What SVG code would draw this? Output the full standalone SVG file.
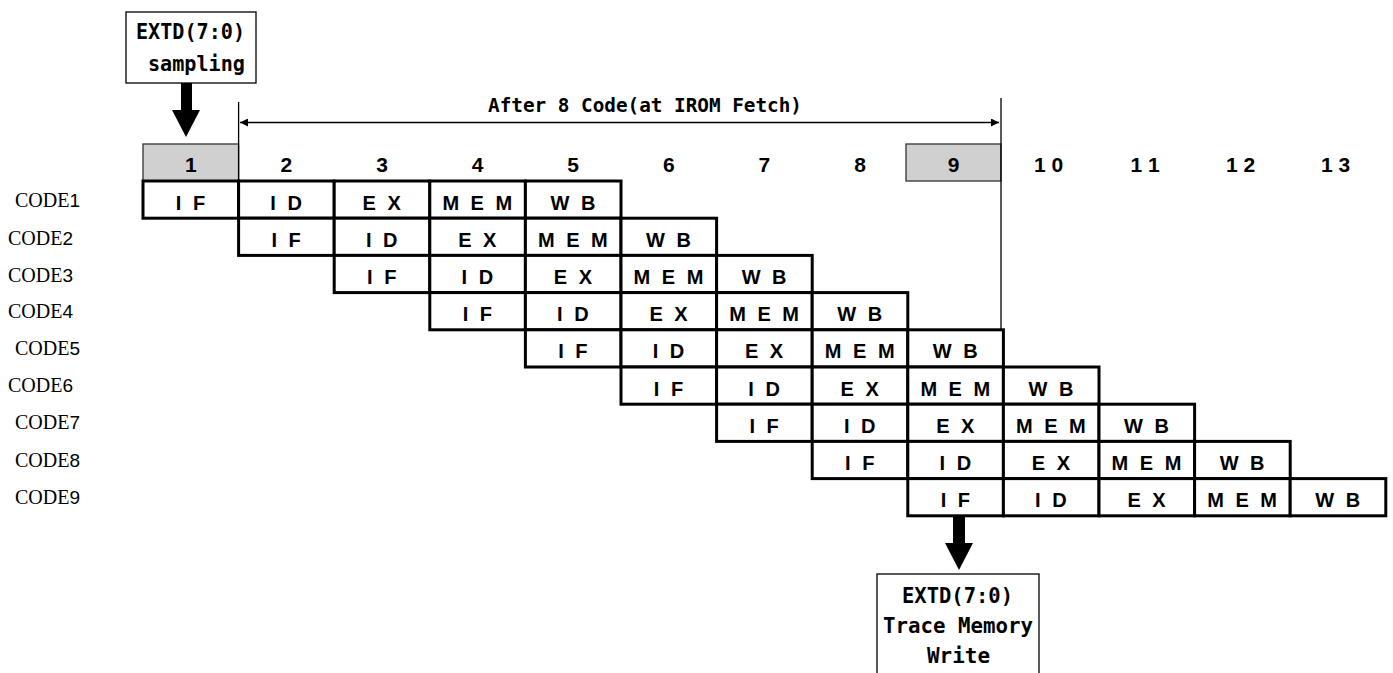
<svg xmlns="http://www.w3.org/2000/svg" width="1393" height="673" viewBox="0 0 1393 673">
<defs>
<style>
.bg{fill:#ffffff}
.cell rect{fill:#ffffff;stroke:#000;stroke-width:3}
.cell text{font-family:"Liberation Sans",Arial,sans-serif;font-weight:bold;font-size:20px;letter-spacing:3px;text-anchor:middle;fill:#000}
.hdr text{font-family:"Liberation Sans",Arial,sans-serif;font-weight:bold;font-size:21px;text-anchor:middle;fill:#000}
.gray{fill:#d0d0d0;stroke:#333;stroke-width:1.3}
.lbl{font-family:"Liberation Serif","Times New Roman",serif;font-size:20px;fill:#000}
.lbl tspan{font-family:"Liberation Sans",Arial,sans-serif;font-size:19px}
.note rect{fill:#fff;stroke:#000;stroke-width:1.3}
.note text{font-family:"DejaVu Sans Mono","Liberation Mono",monospace;font-weight:bold;font-size:22px;fill:#000}
.thin{stroke:#000;stroke-width:1.3;fill:none}
.big{fill:#000}
.cap{font-family:"DejaVu Sans Mono","Liberation Mono",monospace;font-weight:bold;font-size:20px;fill:#000}
</style>
<marker id="ah" viewBox="0 0 10 10" refX="10" refY="5" markerWidth="10" markerHeight="8" markerUnits="userSpaceOnUse" orient="auto-start-reverse">
<path d="M0,0 L10,5 L0,10 z" fill="#000"/>
</marker>
</defs>
<rect class="bg" x="0" y="0" width="1393" height="673"/>

<g id="header">
<rect class="gray" x="143" y="144" width="95.6" height="37"/>
<rect class="gray" x="906" y="144" width="95" height="37"/>
<g class="hdr">
<text x="190.8" y="172">1</text>
<text x="286.4" y="172">2</text>
<text x="382" y="172">3</text>
<text x="477.6" y="172">4</text>
<text x="573.2" y="172">5</text>
<text x="668.8" y="172">6</text>
<text x="764.4" y="172">7</text>
<text x="860" y="172">8</text>
<text x="953.5" y="172">9</text>
<text x="1048.5" y="172">1 0</text>
<text x="1145" y="172">1 1</text>
<text x="1240.5" y="172">1 2</text>
<text x="1335.5" y="172">1 3</text>
</g>
</g>

<g id="connectors">
<line class="thin" x1="238.6" y1="102" x2="238.6" y2="181"/>
<line class="thin" x1="1001" y1="98" x2="1001" y2="330"/>
<line class="thin" x1="240" y1="122.5" x2="999" y2="122.5" marker-start="url(#ah)" marker-end="url(#ah)"/>
<text class="cap" x="488" y="112" textLength="314" lengthAdjust="spacingAndGlyphs">After 8 Code(at IROM Fetch)</text>
<rect class="big" x="181" y="83" width="11" height="28"/>
<polygon class="big" points="172,110 200,110 186,137"/>
<rect class="big" x="953" y="517" width="12" height="27"/>
<polygon class="big" points="945,543 973,543 959,570"/>
</g>

<g id="sampling-box" class="note">
<rect x="126" y="12" width="130" height="71"/>
<text x="136" y="39" textLength="109" lengthAdjust="spacingAndGlyphs">EXTD(7:0)</text>
<text x="148" y="71" textLength="97" lengthAdjust="spacingAndGlyphs">sampling</text>
</g>

<g id="trace-box" class="note">
<rect x="877" y="574" width="162" height="120"/>
<text x="902" y="603" textLength="111" lengthAdjust="spacingAndGlyphs">EXTD(7:0)</text>
<text x="883" y="633" textLength="150" lengthAdjust="spacingAndGlyphs">Trace Memory</text>
<text x="927" y="663" textLength="63" lengthAdjust="spacingAndGlyphs">Write</text>
</g>

<g id="labels">
<text class="lbl" x="15" y="207">CODE<tspan>1</tspan></text>
<text class="lbl" x="8" y="245">CODE<tspan>2</tspan></text>
<text class="lbl" x="8" y="282">CODE<tspan>3</tspan></text>
<text class="lbl" x="8" y="318">CODE<tspan>4</tspan></text>
<text class="lbl" x="15" y="355">CODE<tspan>5</tspan></text>
<text class="lbl" x="8" y="392">CODE<tspan>6</tspan></text>
<text class="lbl" x="15" y="429">CODE<tspan>7</tspan></text>
<text class="lbl" x="15" y="467">CODE<tspan>8</tspan></text>
<text class="lbl" x="15" y="504">CODE<tspan>9</tspan></text>
</g>

<g id="code1" class="cell">
<rect x="143" y="181" width="95.6" height="37.2"/><text x="192" y="209.5">I F</text>
<rect x="238.6" y="181" width="95.6" height="37.2"/><text x="287.6" y="209.5">I D</text>
<rect x="334.2" y="181" width="95.6" height="37.2"/><text x="383.2" y="209.5">E X</text>
<rect x="429.8" y="181" width="95.6" height="37.2"/><text x="478.8" y="209.5">M E M</text>
<rect x="525.4" y="181" width="95.6" height="37.2"/><text x="574.4" y="209.5">W B</text>
</g>
<g id="code2" class="cell">
<rect x="238.6" y="218.2" width="95.6" height="37.2"/><text x="287.6" y="246.7">I F</text>
<rect x="334.2" y="218.2" width="95.6" height="37.2"/><text x="383.2" y="246.7">I D</text>
<rect x="429.8" y="218.2" width="95.6" height="37.2"/><text x="478.8" y="246.7">E X</text>
<rect x="525.4" y="218.2" width="95.6" height="37.2"/><text x="574.4" y="246.7">M E M</text>
<rect x="621" y="218.2" width="95.6" height="37.2"/><text x="670" y="246.7">W B</text>
</g>
<g id="code3" class="cell">
<rect x="334.2" y="255.4" width="95.6" height="37.2"/><text x="383.2" y="283.9">I F</text>
<rect x="429.8" y="255.4" width="95.6" height="37.2"/><text x="478.8" y="283.9">I D</text>
<rect x="525.4" y="255.4" width="95.6" height="37.2"/><text x="574.4" y="283.9">E X</text>
<rect x="621" y="255.4" width="95.6" height="37.2"/><text x="670" y="283.9">M E M</text>
<rect x="716.6" y="255.4" width="95.6" height="37.2"/><text x="765.6" y="283.9">W B</text>
</g>
<g id="code4" class="cell">
<rect x="429.8" y="292.6" width="95.6" height="37.2"/><text x="478.8" y="321.1">I F</text>
<rect x="525.4" y="292.6" width="95.6" height="37.2"/><text x="574.4" y="321.1">I D</text>
<rect x="621" y="292.6" width="95.6" height="37.2"/><text x="670" y="321.1">E X</text>
<rect x="716.6" y="292.6" width="95.6" height="37.2"/><text x="765.6" y="321.1">M E M</text>
<rect x="812.2" y="292.6" width="95.6" height="37.2"/><text x="861.2" y="321.1">W B</text>
</g>
<g id="code5" class="cell">
<rect x="525.4" y="329.8" width="95.6" height="37.2"/><text x="574.4" y="358.3">I F</text>
<rect x="621" y="329.8" width="95.6" height="37.2"/><text x="670" y="358.3">I D</text>
<rect x="716.6" y="329.8" width="95.6" height="37.2"/><text x="765.6" y="358.3">E X</text>
<rect x="812.2" y="329.8" width="95.6" height="37.2"/><text x="861.2" y="358.3">M E M</text>
<rect x="907.8" y="329.8" width="95.6" height="37.2"/><text x="956.8" y="358.3">W B</text>
</g>
<g id="code6" class="cell">
<rect x="621" y="367" width="95.6" height="37.2"/><text x="670" y="395.5">I F</text>
<rect x="716.6" y="367" width="95.6" height="37.2"/><text x="765.6" y="395.5">I D</text>
<rect x="812.2" y="367" width="95.6" height="37.2"/><text x="861.2" y="395.5">E X</text>
<rect x="907.8" y="367" width="95.6" height="37.2"/><text x="956.8" y="395.5">M E M</text>
<rect x="1003.4" y="367" width="95.6" height="37.2"/><text x="1052.4" y="395.5">W B</text>
</g>
<g id="code7" class="cell">
<rect x="716.6" y="404.2" width="95.6" height="37.2"/><text x="765.6" y="432.7">I F</text>
<rect x="812.2" y="404.2" width="95.6" height="37.2"/><text x="861.2" y="432.7">I D</text>
<rect x="907.8" y="404.2" width="95.6" height="37.2"/><text x="956.8" y="432.7">E X</text>
<rect x="1003.4" y="404.2" width="95.6" height="37.2"/><text x="1052.4" y="432.7">M E M</text>
<rect x="1099" y="404.2" width="95.6" height="37.2"/><text x="1148" y="432.7">W B</text>
</g>
<g id="code8" class="cell">
<rect x="812.2" y="441.4" width="95.6" height="37.2"/><text x="861.2" y="469.9">I F</text>
<rect x="907.8" y="441.4" width="95.6" height="37.2"/><text x="956.8" y="469.9">I D</text>
<rect x="1003.4" y="441.4" width="95.6" height="37.2"/><text x="1052.4" y="469.9">E X</text>
<rect x="1099" y="441.4" width="95.6" height="37.2"/><text x="1148" y="469.9">M E M</text>
<rect x="1194.6" y="441.4" width="95.6" height="37.2"/><text x="1243.6" y="469.9">W B</text>
</g>
<g id="code9" class="cell">
<rect x="907.8" y="478.6" width="95.6" height="37.2"/><text x="956.8" y="507.1">I F</text>
<rect x="1003.4" y="478.6" width="95.6" height="37.2"/><text x="1052.4" y="507.1">I D</text>
<rect x="1099" y="478.6" width="95.6" height="37.2"/><text x="1148" y="507.1">E X</text>
<rect x="1194.6" y="478.6" width="95.6" height="37.2"/><text x="1243.6" y="507.1">M E M</text>
<rect x="1290.2" y="478.6" width="95.6" height="37.2"/><text x="1339.2" y="507.1">W B</text>
</g>
</svg>
